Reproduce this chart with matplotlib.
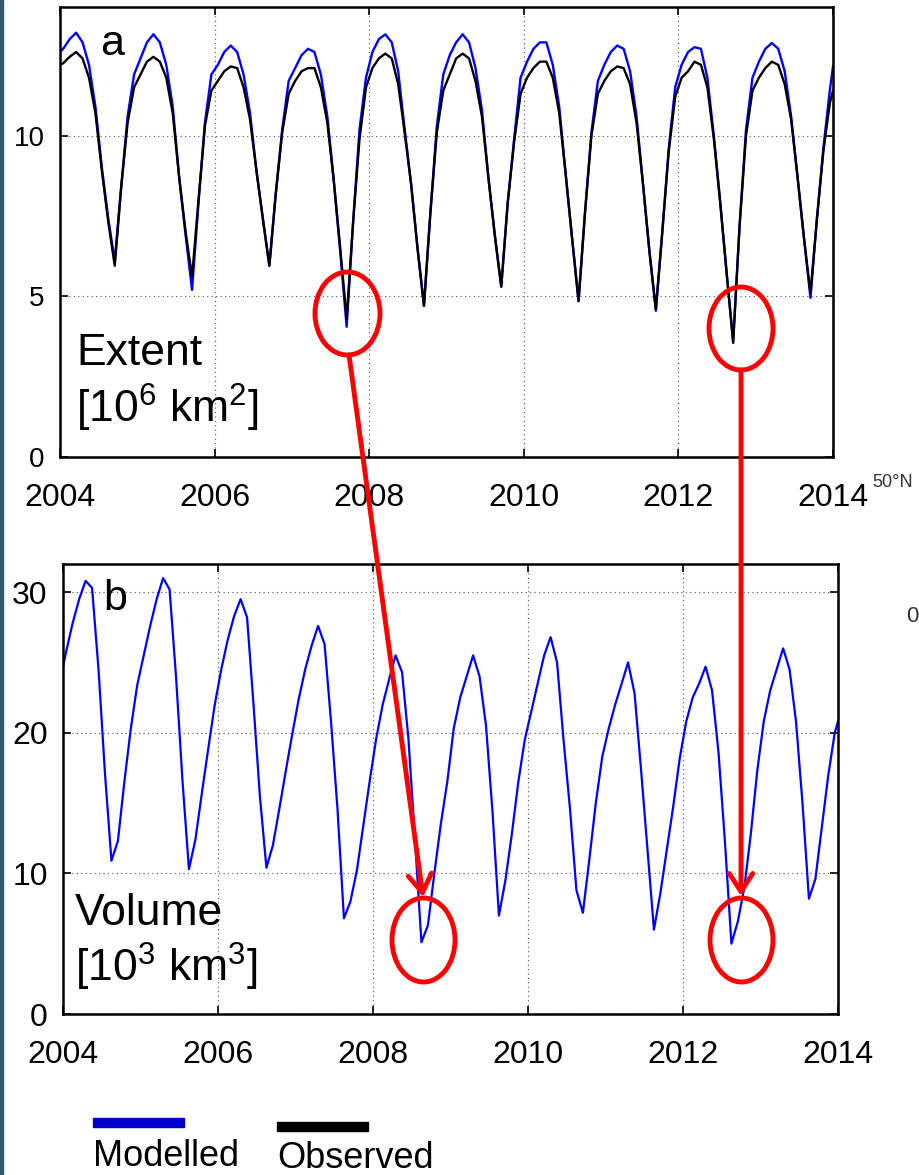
import numpy as np
import matplotlib
matplotlib.use('Agg')
import matplotlib.pyplot as plt
from matplotlib.patches import Ellipse, Rectangle, FancyArrowPatch

plt.rcParams['font.family'] = ['Liberation Sans', 'DejaVu Sans']
plt.rcParams['mathtext.fontset'] = 'custom'
plt.rcParams['mathtext.rm'] = 'Liberation Sans'
plt.rcParams['mathtext.default'] = 'regular'

# monthly values (mid-month), one row per year 2004..2013
extent_mod = [
    12.7, 13.0, 13.2, 12.9, 12.2, 10.9, 9.0, 7.4, 6.1, 8.4, 10.6, 11.9,
    12.4, 12.9, 13.15, 12.9, 12.2, 10.9, 8.7, 6.9, 5.2, 7.9, 10.4, 11.9,
    12.2, 12.6, 12.8, 12.6, 11.9, 10.7, 8.9, 7.4, 5.95, 8.2, 10.2, 11.7,
    12.1, 12.5, 12.7, 12.6, 11.9, 10.6, 8.6, 6.4, 4.05, 7.3, 10.2, 11.8,
    12.6, 13.0, 13.15, 12.9, 12.0, 10.2, 8.5, 6.5, 4.7, 7.6, 10.3, 11.9,
    12.5, 12.9, 13.15, 12.9, 12.1, 10.8, 8.7, 6.9, 5.3, 7.9, 9.9, 11.8,
    12.3, 12.7, 12.9, 12.9, 12.2, 10.9, 8.8, 6.8, 4.85, 7.6, 10.1, 11.7,
    12.2, 12.6, 12.8, 12.7, 12.0, 10.6, 8.5, 6.4, 4.55, 7.0, 9.6, 11.5,
    12.2, 12.6, 12.75, 12.7, 11.8, 10.0, 7.9, 5.7, 3.6, 7.2, 10.2, 11.8,
    12.3, 12.7, 12.88, 12.7, 12.0, 10.6, 8.7, 6.8, 4.95, 7.4, 9.6, 11.4,
]
extent_obs = [
    12.25, 12.45, 12.6, 12.4, 11.8, 10.7, 8.9, 7.3, 5.95, 8.4, 10.4, 11.5,
    11.9, 12.3, 12.45, 12.3, 11.8, 10.7, 8.7, 7.0, 5.6, 8.0, 10.3, 11.4,
    11.7, 12.0, 12.15, 12.1, 11.5, 10.5, 8.9, 7.4, 5.95, 8.2, 10.1, 11.3,
    11.7, 12.0, 12.1, 12.1, 11.5, 10.4, 8.6, 6.5, 4.3, 7.3, 9.9, 11.5,
    12.1, 12.4, 12.55, 12.4, 11.6, 10.1, 8.5, 6.5, 4.7, 7.6, 10.1, 11.4,
    11.9, 12.4, 12.55, 12.4, 11.7, 10.6, 8.7, 6.9, 5.3, 7.9, 9.8, 11.3,
    11.8, 12.1, 12.3, 12.3, 11.8, 10.7, 8.8, 6.8, 4.85, 7.6, 10.0, 11.3,
    11.7, 12.0, 12.15, 12.1, 11.6, 10.4, 8.5, 6.4, 4.6, 7.0, 9.5, 11.2,
    11.8, 12.0, 12.3, 12.2, 11.5, 9.9, 7.9, 5.7, 3.55, 7.2, 10.0, 11.4,
    11.8, 12.1, 12.3, 12.2, 11.6, 10.5, 8.7, 6.8, 5.1, 7.4, 9.5, 11.0,
]
volume_mod = [
    25.8, 27.8, 29.5, 30.8, 30.3, 24.5, 17.1, 10.9, 12.3, 16.5, 20.3, 23.4,
    25.5, 27.6, 29.5, 31.0, 30.2, 24.0, 16.6, 10.3, 12.4, 15.7, 18.9, 22.0,
    24.5, 26.6, 28.3, 29.5, 28.2, 22.0, 15.4, 10.4, 12.0, 14.6, 17.3, 19.9,
    22.4, 24.5, 26.2, 27.6, 26.3, 20.8, 14.6, 6.8, 8.0, 10.2, 13.4, 16.6,
    19.6, 22.0, 23.8, 25.5, 24.3, 19.5, 12.4, 5.1, 6.3, 10.0, 13.5, 16.5,
    20.3, 22.5, 24.0, 25.5, 24.0, 20.5, 14.4, 7.0, 9.5, 12.8, 16.5, 19.5,
    21.5, 23.5, 25.5, 26.8, 25.0, 19.5, 14.6, 8.8, 7.2, 11.0, 15.0, 18.3,
    20.3, 22.0, 23.5, 25.0, 22.8, 17.4, 11.7, 6.0, 8.6, 11.7, 14.8, 18.2,
    20.8, 22.5, 23.5, 24.7, 23.0, 18.6, 12.2, 5.0, 6.6, 9.0, 12.8, 17.3,
    20.8, 23.0, 24.5, 26.0, 24.5, 20.8, 15.0, 8.2, 9.6, 13.3, 17.0, 20.0,
]
# values at 2004.0 and 2014.0
edge_ext_mod = [12.6, 12.15]
edge_ext_obs = [12.2, 11.4]
edge_vol_mod = [24.7, 20.8]

years = [2004, 2006, 2008, 2010, 2012, 2014]
ext_ticks = [0, 5, 10]
vol_ticks = [0, 10, 20, 30]

t = 2004 + (np.arange(len(extent_mod)) + 0.5) / 12.0
t = np.concatenate([[2004.0], t, [2014.0]])


def with_edges(vals, edges):
    return np.concatenate([[edges[0]], vals, [edges[1]]])


W, H = 920, 1175
fig = plt.figure(figsize=(9.2, 11.75), dpi=100)


def fx(x):
    return x / W


def fy(y):
    return 1 - y / H


def style(ax, yticks, ysize):
    ax.set_xlim(2004, 2014)
    ax.set_xticks(years)
    ax.set_yticks(yticks)
    ax.grid(True, color='#555555', linestyle=(0, (1, 3)), linewidth=0.8)
    ax.tick_params(direction='in', length=6, width=1.2, top=True, right=True)
    ax.tick_params(axis='x', labelsize=23, pad=19)
    ax.tick_params(axis='y', labelsize=ysize, pad=11)
    for s in ax.spines.values():
        s.set_linewidth(1.8)


ax1 = fig.add_axes([fx(60), fy(457), fx(833) - fx(60), fy(7) - fy(457)])
ax1.plot(t, with_edges(extent_mod, edge_ext_mod), color='#0000ff', lw=1.7)
ax1.plot(t, with_edges(extent_obs, edge_ext_obs), color='black', lw=1.7)
ax1.set_ylim(0, 14)
style(ax1, ext_ticks, 20)

ax2 = fig.add_axes([fx(63), fy(1014), fx(838) - fx(63), fy(564) - fy(1014)])
ax2.plot(t, with_edges(volume_mod, edge_vol_mod), color='#0000ff', lw=1.6)
ax2.set_ylim(0, 32)
style(ax2, vol_ticks, 23)

# panel labels
fig.text(fx(100), fy(55), 'a', fontsize=31, va='baseline')
fig.text(fx(76), fy(365), 'Extent', fontsize=32, va='baseline')
fig.text(fx(76), fy(423), r'[10$^6$ km$^2$]', fontsize=32, va='baseline')
fig.text(fx(103), fy(610), 'b', fontsize=31, va='baseline')
fig.text(fx(75), fy(925), 'Volume', fontsize=32, va='baseline')
fig.text(fx(75), fy(982), r'[10$^3$ km$^3$]', fontsize=32, va='baseline')

# stray map labels at the right
fig.text(fx(872), fy(487), '50°N', fontsize=13, color='#333333', va='baseline')
fig.text(fx(906), fy(622), '0', fontsize=16, color='#333333', va='baseline')

# dark strip at the left edge
fig.add_artist(Rectangle((0, 0), fx(3), 1, transform=fig.transFigure,
                         color='#34596b', zorder=0))

# red annotations
red = '#ff0000'
for cx, cy, w, h in [(347.5, 313.5, 65, 83), (741, 328.5, 64, 83),
                     (423.5, 940, 63, 84), (741.5, 940, 63, 84)]:
    fig.add_artist(Ellipse((fx(cx), fy(cy)), w / W, h / H,
                           transform=fig.transFigure, fill=False,
                           edgecolor=red, lw=3.5, zorder=10))

for (x0, y0), (x1, y1) in [((349, 355), (423, 897)), ((741, 370), (741, 896))]:
    fig.add_artist(FancyArrowPatch((fx(x0), fy(y0)), (fx(x1), fy(y1)),
                                   transform=fig.transFigure,
                                   arrowstyle='->,head_length=1.0,head_width=0.65',
                                   mutation_scale=13, color=red, lw=3.5,
                                   shrinkA=0, shrinkB=0, zorder=10))

# legend
fig.add_artist(Rectangle((fx(93), fy(1127)), fx(91), 9 / H,
                         transform=fig.transFigure, color='#0000c8'))
fig.add_artist(Rectangle((fx(277), fy(1131)), fx(91), 9 / H,
                         transform=fig.transFigure, color='black'))
fig.text(fx(93), fy(1166), 'Modelled', fontsize=26, va='baseline')
fig.text(fx(277), fy(1168), 'Observed', fontsize=26, va='baseline')

fig.savefig('out.png', dpi=100)
